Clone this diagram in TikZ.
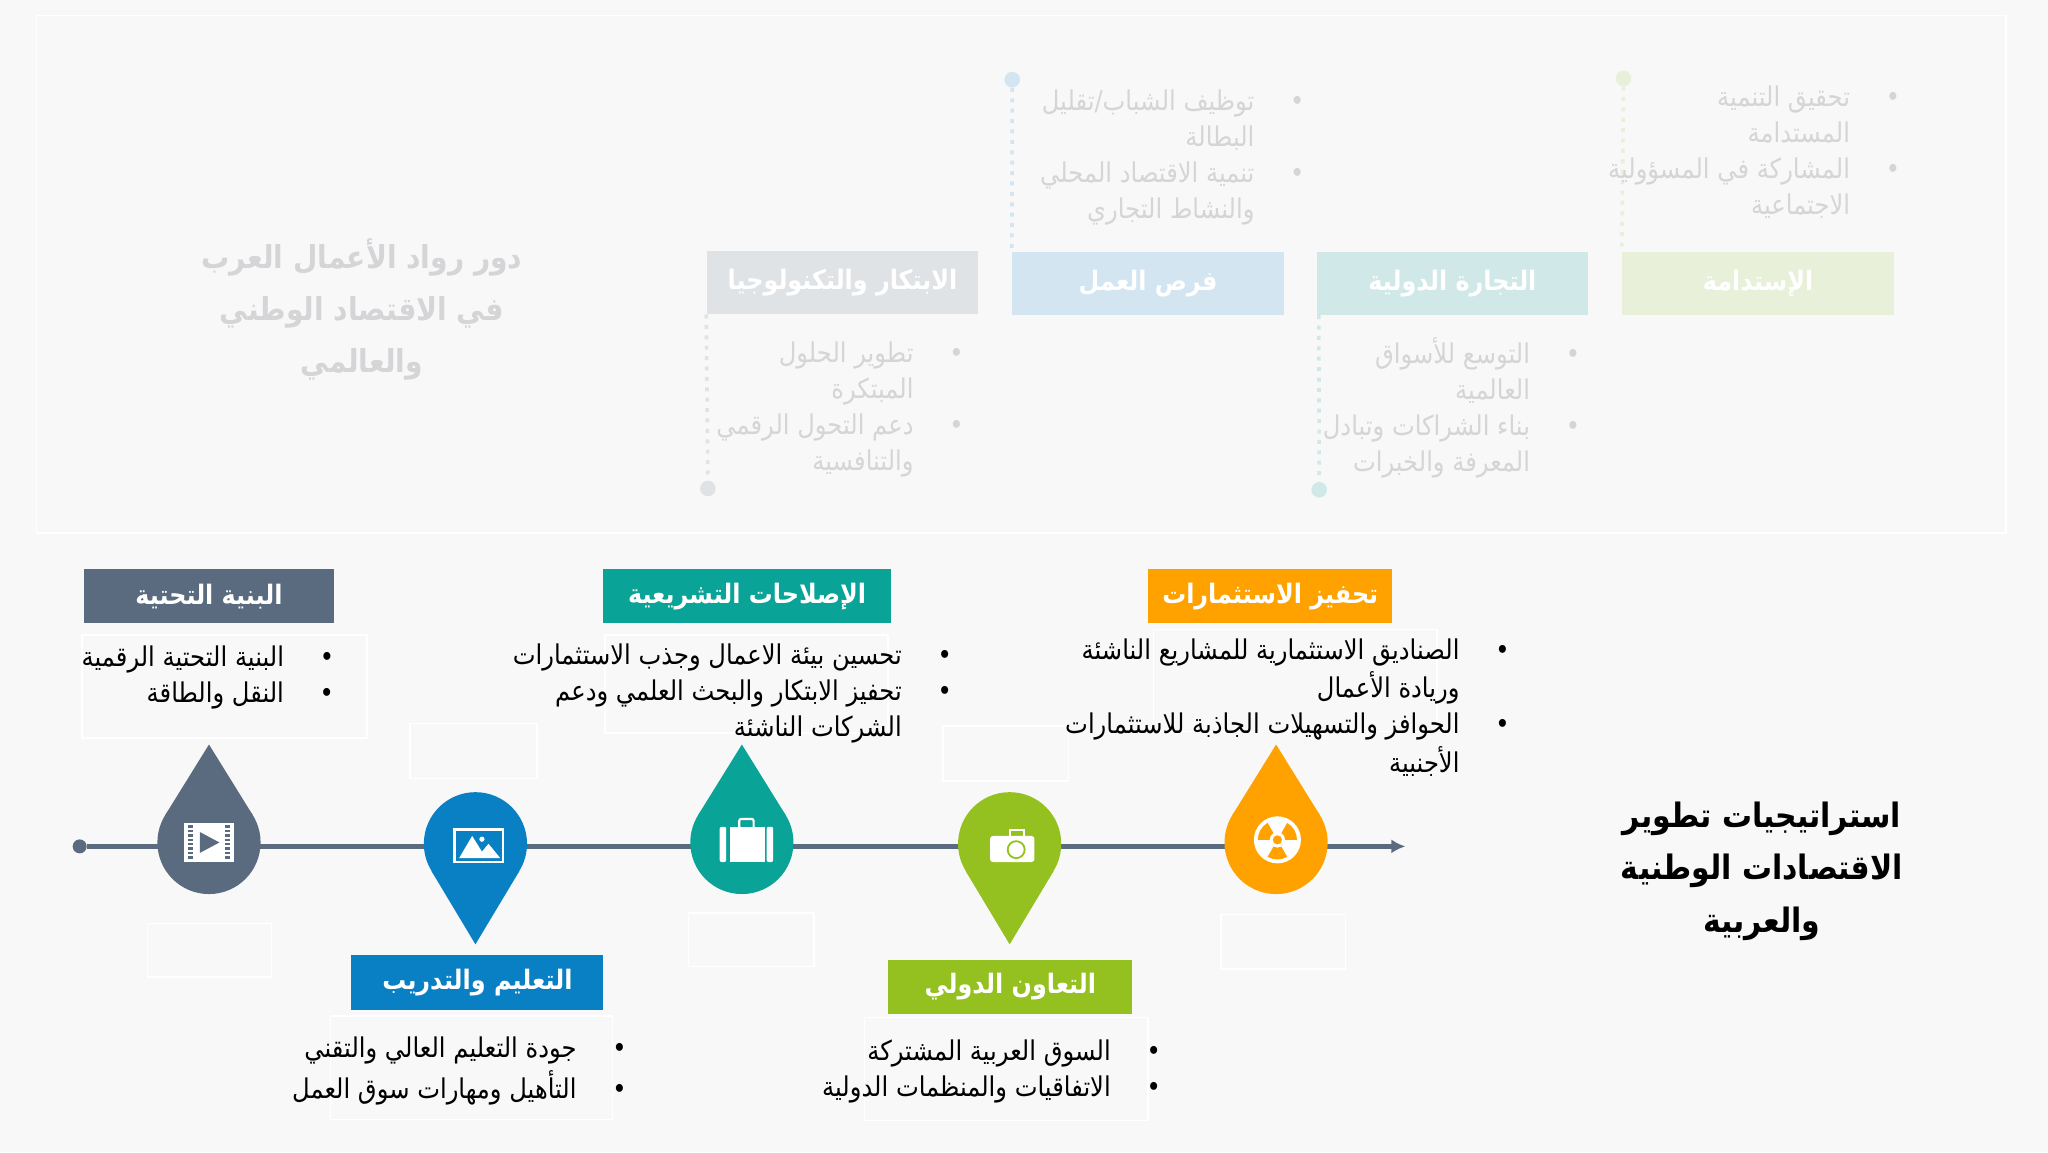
\documentclass[tikz,border=0pt]{standalone}
\usepackage{fontspec}
\usepackage{xcolor}
\usetikzlibrary{positioning,shapes,arrows.meta,calc}
\TeXXeTstate=1
\newfontfamily\arabicfont[Script=Arabic,FakeStretch=0.89]{DejaVu Sans}
\newcommand{\ar}[1]{\beginR #1\endR}
\newcommand{\bul}[1]{\strut\ar{#1}\makebox[25pt][r]{\textbullet}}
\newcommand{\nobul}[1]{\strut\ar{#1}\makebox[25pt]{}}
\definecolor{bgcol}{HTML}{F8F8F8}
\definecolor{slatecol}{HTML}{5A6B7F}
\definecolor{tealcol}{HTML}{0AA397}
\definecolor{orangecol}{HTML}{FFA200}
\definecolor{bluecol}{HTML}{0A80C4}
\definecolor{greencol}{HTML}{94C11F}
\definecolor{fadetext}{HTML}{D5D5D7}
\definecolor{fadegray}{HTML}{E0E3E6}
\definecolor{fadeblue}{HTML}{D3E5F0}
\definecolor{fadeteal}{HTML}{D0E9E8}
\definecolor{fadegreen}{HTML}{E8F0DA}
\tikzset{
  head/.style={inner sep=0pt, text=white, minimum height=26.8pt, font=\arabicfont\bfseries\fontsize{13.4}{16}\selectfont},
  fadehead/.style={inner sep=0pt, text=white, minimum width=135.8pt, minimum height=31.3pt, font=\arabicfont\bfseries\fontsize{13.4}{16}\selectfont},
  itemlist/.style={anchor=north east, inner sep=0pt, align=right, text=black, font=\arabicfont\fontsize{13.6}{18}\selectfont},
  fadelist/.style={itemlist, text=fadetext},
  bigtitle/.style={inner sep=0pt, align=center, font=\arabicfont\bfseries\fontsize{16.8}{26.1}\selectfont},
  blankbox/.style={draw=white, line width=0.8pt},
  drop/.style={circle, inner sep=0pt, minimum size=51.6pt},
  enddot/.style={circle, inner sep=0pt, minimum size=7.8pt},
  dotline/.style={line width=1.8pt, dash pattern=on 2pt off 3.2pt},
}

\begin{document}
\begin{tikzpicture}[x=0.65306pt, y=-0.65306pt, >=Latex]

\useasboundingbox (0,0) rectangle (1568,882);
\fill[bgcol] (0,0) rectangle (1568,882);

% --- faded upper panel ---
\draw[blankbox] (28,12) rectangle (1536,408);

\node (hdrInno) [fadehead, fill=fadegray]  at (645,216.5) {\ar{الابتكار والتكنولوجيا}};
\node (hdrJobs) [fadehead, fill=fadeblue]  at (879,217)   {\ar{فرص العمل}};
\node (hdrTrade)[fadehead, fill=fadeteal]  at (1112,217)  {\ar{التجارة الدولية}};
\node (hdrSust) [fadehead, fill=fadegreen] at (1346,217)  {\ar{الإستدامة}};

\node (dotInno) [enddot, fill=fadegray]  at (542,374)  {};
\node (dotJobs) [enddot, fill=fadeblue]  at (775,61)   {};
\node (dotTrade)[enddot, fill=fadeteal]  at (1010,375) {};
\node (dotSust) [enddot, fill=fadegreen] at (1243,60)  {};

\draw[dotline, fadegray]  (hdrInno.south west)  -- (dotInno);
\draw[dotline, fadeblue]  (dotJobs)  -- (hdrJobs.north west);
\draw[dotline, fadeteal]  ($(hdrTrade.south west)+(2,0)$) -- (dotTrade);
\draw[dotline, fadegreen] (dotSust)  -- (hdrSust.north west);

\node (listJobs) [fadelist] at (999,65) {\bul{توظيف الشباب/تقليل}\\\nobul{البطالة}\\\bul{تنمية الاقتصاد المحلي}\\\nobul{والنشاط التجاري}};
\node (listSust) [fadelist] at (1455,62) {\bul{تحقيق التنمية}\\\nobul{المستدامة}\\\bul{المشاركة في المسؤولية}\\\nobul{الاجتماعية}};
\node (listInno) [fadelist] at (738,258) {\bul{تطوير الحلول}\\\nobul{المبتكرة}\\\bul{دعم التحول الرقمي}\\\nobul{والتنافسية}};
\node (listTrade)[fadelist] at (1210,258) {\bul{التوسع للأسواق}\\\nobul{العالمية}\\\bul{بناء الشراكات وتبادل}\\\nobul{المعرفة والخبرات}};

\node (fadeTitle) [bigtitle, text=fadetext, font=\arabicfont\bfseries\fontsize{15.8}{26.1}\selectfont] at (277,237) {\ar{دور رواد الأعمال العرب}\\\ar{في الاقتصاد الوطني}\\\ar{والعالمي}};

% --- empty outlined boxes ---
\draw[blankbox] (63,486) rectangle (281,565);
\draw[blankbox] (463,486) rectangle (680,561);
\draw[blankbox] (883,482) rectangle (1100,560);
\draw[blankbox] (253,778) rectangle (469,857);
\draw[blankbox] (662,779) rectangle (879,858);
\draw[blankbox] (314,554) rectangle (411,596);
\draw[blankbox] (113,707) rectangle (208,748);
\draw[blankbox] (527,699) rectangle (623,740);
\draw[blankbox] (722,556) rectangle (818,598);
\draw[blankbox] (935,700) rectangle (1030,742);

% --- time line ---
\node (tstart) [circle, inner sep=0pt, minimum size=7pt, fill=slatecol] at (61,648) {};
\coordinate (tend) at (1076,648);
\draw[-{Latex[length=7pt,width=7pt]}, line width=2.6pt, slatecol] (tstart) -- (tend);

% --- drops on the line ---
\node (pinInfra) [drop, fill=slatecol] at (160,645) {};
\fill[slatecol] ($(pinInfra)+(0,-75)$) -- ($(pinInfra)+(-33.6,-20.8)$) -- ($(pinInfra)+(33.6,-20.8)$) -- cycle;
\node (pinEdu) [drop, fill=bluecol] at (364,646) {};
\fill[bluecol] ($(pinEdu)+(0,77)$) -- ($(pinEdu)+(-33.6,21)$) -- ($(pinEdu)+(33.6,21)$) -- cycle;
\node (pinLaw) [drop, fill=tealcol] at (568,645) {};
\fill[tealcol] ($(pinLaw)+(0,-75)$) -- ($(pinLaw)+(-33.6,-20.8)$) -- ($(pinLaw)+(33.6,-20.8)$) -- cycle;
\node (pinCoop) [drop, fill=greencol] at (773,646) {};
\fill[greencol] ($(pinCoop)+(0,77)$) -- ($(pinCoop)+(-33.6,21)$) -- ($(pinCoop)+(33.6,21)$) -- cycle;
\node (pinInvest) [drop, fill=orangecol] at (977,645) {};
\fill[orangecol] ($(pinInvest)+(0,-75)$) -- ($(pinInvest)+(-33.6,-20.8)$) -- ($(pinInvest)+(33.6,-20.8)$) -- cycle;

% film icon
\fill[white] (141,630) rectangle (179,660);
\draw[slatecol, line width=2.4pt, dash pattern=on 1.2pt off 1pt] (146,632) -- (146,658);
\draw[slatecol, line width=2.4pt, dash pattern=on 1.2pt off 1pt] (174,632) -- (174,658);
\fill[slatecol] (153,637) -- (168,645) -- (153,653) -- cycle;

% picture icon
\draw[white, line width=1.1pt] (348,635) rectangle (385,660);
\fill[white] (351.5,657) -- (361.5,640) -- (369,652) -- (374,646) -- (383,657) -- cycle;
\fill[white] (369,642.5) circle[radius=2];

% suitcase icon
\fill[white, rounded corners=1pt] (551,633) rectangle (556,660);
\fill[white] (559,633) rectangle (585.5,660);
\fill[white, rounded corners=1pt] (587,633) rectangle (592,660);
\draw[white, line width=1.1pt, rounded corners=1pt] (566,633) -- (566,627) -- (577,627) -- (577,633);

% camera icon
\fill[white, rounded corners=1.5pt] (758,640) rectangle (792,660);
\draw[white, line width=1.1pt] (773,640) -- (773,635.5) -- (784,635.5) -- (784,640);
\draw[greencol, fill=white, line width=0.9pt] (778,650.5) circle[radius=6.5];

% radiation icon
\coordinate (radc) at (978,643);
\fill[white] (radc) circle[radius=18];
\fill[orangecol] ($(radc)+(-60:6)$) -- ($(radc)+(-60:15)$) arc[start angle=-60, end angle=0, radius=15] -- ($(radc)+(0:6)$) arc[start angle=0, end angle=-60, radius=6] -- cycle;
\fill[orangecol] ($(radc)+(-180:6)$) -- ($(radc)+(-180:15)$) arc[start angle=-180, end angle=-120, radius=15] -- ($(radc)+(-120:6)$) arc[start angle=-120, end angle=-180, radius=6] -- cycle;
\fill[orangecol] ($(radc)+(60:6)$) -- ($(radc)+(60:15)$) arc[start angle=60, end angle=120, radius=15] -- ($(radc)+(120:6)$) arc[start angle=120, end angle=60, radius=6] -- cycle;
\fill[orangecol] (radc) circle[radius=3.5];

% --- headers and lists of the lower part ---
\node (hdrInfra) [head, fill=slatecol, minimum width=125.4pt] at (160,456.5) {\ar{البنية التحتية}};
\node (hdrLaw)   [head, fill=tealcol, minimum width=143.7pt] at (572,456.5) {\ar{الإصلاحات التشريعية}};
\node (hdrInvest)[head, fill=orangecol, minimum width=122.1pt] at (972.5,456.5) {\ar{تحفيز الاستثمارات}};
\node (hdrEdu)   [head, fill=bluecol, minimum width=126pt, minimum height=27.4pt] at (365.5,752) {\ar{التعليم والتدريب}};
\node (hdrCoop)  [head, fill=greencol, minimum width=122.1pt] at (773.5,755.5) {\ar{التعاون الدولي}};

\node (listInfra) [itemlist] at (256,491) {\bul{البنية التحتية الرقمية}\\\bul{النقل والطاقة}};
\node (listLaw)   [itemlist] at (729,489) {\bul{تحسين بيئة الاعمال وجذب الاستثمارات}\\\bul{تحفيز الابتكار والبحث العلمي ودعم}\\\nobul{الشركات الناشئة}};
\node (listInvest)[itemlist] at (1156,485) {\bul{الصناديق الاستثمارية للمشاريع الناشئة}\\\nobul{وريادة الأعمال}\\\bul{الحوافز والتسهيلات الجاذبة للاستثمارات}\\\nobul{الأجنبية}};
\node (listEdu)   [itemlist] at (480,790) {\bul{جودة التعليم العالي والتقني}\\\bul{التأهيل ومهارات سوق العمل}};
\node (listCoop)  [itemlist] at (889,792) {\bul{السوق العربية المشتركة}\\\bul{الاتفاقيات والمنظمات الدولية}};

\node (mainTitle) [bigtitle, text=black] at (1349,667) {\ar{استراتيجيات تطوير}\\\ar{الاقتصادات الوطنية}\\\ar{والعربية}};

\end{tikzpicture}
\end{document}
